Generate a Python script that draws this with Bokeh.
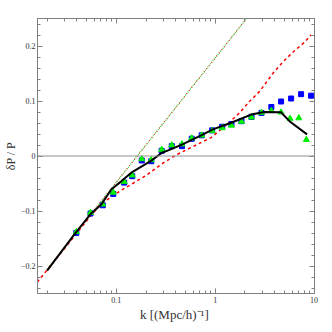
from bokeh.plotting import figure
from bokeh.models import FixedTicker, LogAxis, LinearAxis, Span
from bokeh.embed import file_html
from bokeh.resources import INLINE

# black solid curve
k_black = [0.020, 0.0374, 0.0558, 0.0705, 0.089, 0.1123, 0.145, 0.192, 0.226, 0.29,
           0.360, 0.472, 0.722, 0.948, 1.45, 2.31, 3.15, 4.64, 5.64, 8.49]
v_black = [-0.2084, -0.1434, -0.1045, -0.0884, -0.0609, -0.0461, -0.0292, -0.0161, -0.0084, 0.006,
           0.0125, 0.0215, 0.0376, 0.0484, 0.0604, 0.0753, 0.0801, 0.0794, 0.0633, 0.0394]

# red dashed curve
k_red = [0.0159, 0.0278, 0.0559, 0.0706, 0.1123, 0.201, 0.299, 0.420, 0.618, 0.911,
         1.35, 1.76, 2.22, 2.80, 3.83, 4.83, 6.10, 7.98, 9.33]
v_red = [-0.2294, -0.1756, -0.1075, -0.0869, -0.0622, -0.0353, -0.0125, 0.0036, 0.0185, 0.0335,
         0.0591, 0.0783, 0.0991, 0.117, 0.150, 0.1708, 0.1887, 0.2066, 0.2204]

# linear-theory dotted line
k_lin = [0.020, 0.163, 2.10]
v_lin = [-0.206, 0.0, 0.251]

# blue squares
k_sq = [0.0395, 0.0550, 0.0731, 0.0933, 0.1204, 0.1451, 0.1812, 0.226, 0.288, 0.364, 0.462, 0.580,
        0.731, 0.933, 1.177, 1.461, 1.844, 2.33, 2.94, 3.70, 4.64, 5.86, 7.39, 9.33]
v_sq = [-0.1398, -0.1045, -0.0896, -0.069, -0.0484, -0.0367, -0.0081, -0.0095, 0.0095, 0.0179, 0.0179, 0.0314,
        0.0376, 0.0466, 0.0532, 0.0582, 0.0633, 0.0711, 0.0783, 0.0891, 0.0991, 0.1045, 0.1124, 0.1097]

# green triangles
k_tri = [0.0395, 0.0550, 0.0731, 0.0933, 0.1204, 0.1451, 0.1812, 0.226, 0.288, 0.364, 0.462, 0.580,
         0.731, 0.933, 1.177, 1.461, 1.844, 2.33, 2.94, 3.70, 4.64, 5.72, 7.01, 8.36]
v_tri = [-0.138, -0.103, -0.0878, -0.0663, -0.0466, -0.0349, -0.0054, -0.0072, 0.0116, 0.0197, 0.0215, 0.0323,
         0.0376, 0.0457, 0.0511, 0.0556, 0.0627, 0.0704, 0.0789, 0.0824, 0.0794, 0.0681, 0.069, 0.0296]

x_major = [0.1, 1, 10]
x_minor = [0.02, 0.03, 0.04, 0.05, 0.06, 0.07, 0.08, 0.09,
           0.2, 0.3, 0.4, 0.5, 0.6, 0.7, 0.8, 0.9,
           2, 3, 4, 5, 6, 7, 8, 9]
x_labels = {0.1: "0.1", 1: "1", 10: "10"}
y_major = [-0.2, -0.1, 0, 0.1, 0.2]
y_minor = [-0.24, -0.22, -0.18, -0.16, -0.14, -0.12, -0.08, -0.06, -0.04, -0.02,
           0.02, 0.04, 0.06, 0.08, 0.12, 0.14, 0.16, 0.18, 0.22, 0.24]
y_labels = {-0.2: "\u22120.2", -0.1: "\u22120.1", 0: "0", 0.1: "0.1", 0.2: "0.2"}

FONT = "Liberation Serif"
AX_COL = "#808080"

p = figure(width=324, height=324, x_axis_type="log", x_range=(0.016, 10.1), y_range=(-0.25, 0.25),
           output_backend="svg", toolbar_location=None,
           min_border_left=36, min_border_right=10, min_border_top=18, min_border_bottom=28)
p.grid.visible = False
p.outline_line_color = AX_COL

def style(ax, labels=True):
    ax.axis_line_color = AX_COL
    ax.major_tick_line_color = AX_COL
    ax.minor_tick_line_color = AX_COL
    ax.major_tick_in = 5
    ax.major_tick_out = 0
    ax.minor_tick_in = 3
    ax.minor_tick_out = 0
    ax.major_label_text_font = FONT
    ax.major_label_text_font_size = "8px"
    ax.major_label_text_color = "#333333"
    ax.major_label_standoff = 3
    ax.axis_label_text_font = FONT
    ax.axis_label_text_font_style = "normal"
    ax.axis_label_text_color = "#333333"
    ax.axis_label_standoff = 0
    if not labels:
        ax.major_label_text_color = None
        ax.major_label_text_font_size = "1px"
        ax.major_label_standoff = 0

xt = FixedTicker(ticks=x_major, minor_ticks=x_minor)
yt = FixedTicker(ticks=y_major, minor_ticks=y_minor)

xa = p.xaxis[0]
xa.ticker = xt
xa.major_label_overrides = x_labels
style(xa)
xa.axis_label = "k  [(Mpc/h)\u207b\u00b9]"
xa.axis_label_text_font_size = "13px"
xa.axis_label_standoff = 1

ya = p.yaxis[0]
ya.ticker = yt
ya.major_label_overrides = y_labels
style(ya)
ya.axis_label = "\u03b4P / P"
ya.axis_label_text_font_size = "12px"
ya.major_label_standoff = 2

top = LogAxis(ticker=FixedTicker(ticks=x_major, minor_ticks=x_minor))
style(top, labels=False)
p.add_layout(top, "above")
right = LinearAxis(ticker=FixedTicker(ticks=y_major, minor_ticks=y_minor))
style(right, labels=False)
p.add_layout(right, "right")

p.add_layout(Span(location=0, dimension="width", line_color="#909090", line_width=1))

p.line(k_lin, v_lin, line_color="#22cc22", line_width=1.1, line_dash="1 1")
p.line(k_lin, v_lin, line_color="#ff3030", line_width=1.1, line_dash="1 3")
p.line(k_red, v_red, line_color="#ff0000", line_width=1.5, line_dash="3 3")
p.scatter(k_sq, v_sq, marker="square", size=5, fill_color="#0000ff", line_color="#0000ff")
p.scatter(k_tri, v_tri, marker="triangle", size=6, fill_color="#00ee00", line_color="#00ee00")
p.line(k_black, v_black, line_color="#000000", line_width=2)

open("out.html", "w").write(file_html(p, INLINE))
